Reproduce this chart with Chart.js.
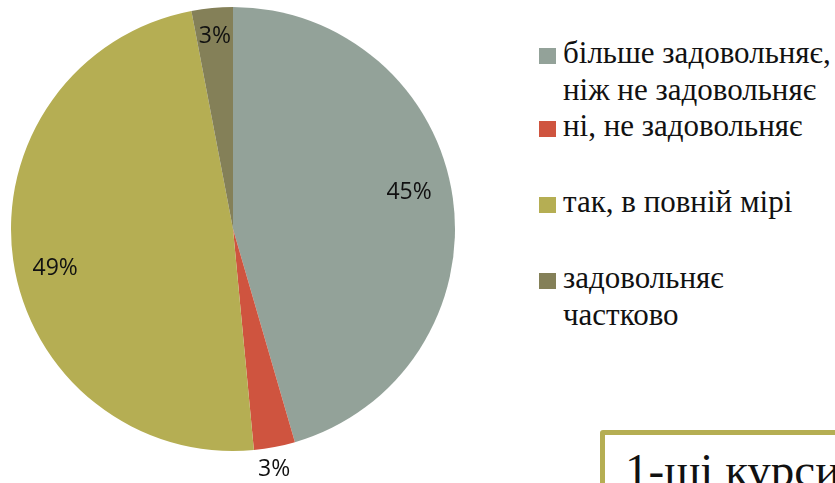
<!DOCTYPE html>
<html>
<head>
<meta charset="utf-8">
<script src="https://cdn.jsdelivr.net/npm/chart.js@4/dist/chart.umd.min.js"></script>
<style>
  html, body { margin: 0; padding: 0; background: #ffffff; }
  body { width: 835px; height: 483px; position: relative; overflow: hidden; }
  #wrap { position: absolute; left: 0; top: 0; width: 466px; height: 483px; }
  #legend { position: absolute; left: 539px; top: 0; font-family: "Liberation Serif", "DejaVu Serif", serif; color: #111; }
  .item { position: absolute; left: 0; white-space: nowrap; }
  .sw { position: absolute; left: 0; width: 17px; height: 16px; }
  .txt { position: absolute; left: 24px; font-size: 31px; line-height: 37px; }
  #box { position: absolute; left: 600px; top: 430px; width: 260px; height: 100px; border: 5px solid #B5AE53; border-radius: 3px; box-sizing: border-box; }
  #boxtxt { position: absolute; left: 625px; top: 444px; font-family: "Liberation Serif", "DejaVu Serif", serif; font-size: 47px; line-height: 52px; color: #111; white-space: nowrap; }
</style>
</head>
<body>
<div id="wrap"><canvas id="c"></canvas></div>
<div id="legend"></div>
<div id="box"></div>
<div id="boxtxt">1-ші курси</div>
<script>
const categories = [
  "більше задовольняє, ніж не задовольняє",
  "ні, не задовольняє",
  "так, в повній мірі",
  "задовольняє частково"
];
const legendLines = [
  ["більше задовольняє,", "ніж не задовольняє"],
  ["ні, не задовольняє"],
  ["так, в повній мірі"],
  ["задовольняє", "частково"]
];
const values = [45.5, 3.0, 48.5, 3.0];
const percentLabels = ["45%", "3%", "49%", "3%"];
const colors = ["#93A299", "#CF543F", "#B5AE53", "#848058"];

// label placement (style): radius fraction and angle offset in degrees
const labelRadius = [0.81, 1.10, 0.82, 0.87];
const labelAngleOffset = [-3.6, 1.1, -4.3, 0];

const labelPlugin = {
  id: 'pctLabels',
  afterDatasetsDraw(chart) {
    const ctx = chart.ctx;
    const meta = chart.getDatasetMeta(0);
    ctx.save();
    ctx.font = '23px "Open Sans", "DejaVu Sans", sans-serif';
    ctx.fillStyle = '#111';
    ctx.textAlign = 'center';
    ctx.textBaseline = 'middle';
    meta.data.forEach((arc, i) => {
      const p = arc.getProps(['x', 'y', 'startAngle', 'endAngle', 'outerRadius'], true);
      const mid = (p.startAngle + p.endAngle) / 2 + labelAngleOffset[i] * Math.PI / 180;
      const r = p.outerRadius * labelRadius[i];
      ctx.fillText(percentLabels[i], p.x + Math.cos(mid) * r, p.y + Math.sin(mid) * r);
    });
    ctx.restore();
  }
};

new Chart(document.getElementById('c'), {
  type: 'pie',
  data: {
    labels: categories,
    datasets: [{
      data: values,
      backgroundColor: colors,
      borderWidth: 0
    }]
  },
  options: {
    responsive: true,
    maintainAspectRatio: false,
    animation: false,
    layout: { padding: { left: 11, top: 7, right: 11, bottom: 32 } },
    plugins: { legend: { display: false }, tooltip: { enabled: false } }
  },
  plugins: [labelPlugin]
});

// legend built from data arrays
const legendTops = [48, 121, 197, 273];
const legend = document.getElementById('legend');
legendLines.forEach((lines, i) => {
  const item = document.createElement('div');
  item.className = 'item';
  item.style.top = legendTops[i] + 'px';
  const sw = document.createElement('div');
  sw.className = 'sw';
  sw.style.background = colors[i];
  item.appendChild(sw);
  const t = document.createElement('div');
  t.className = 'txt';
  t.style.top = '-14px';
  t.innerHTML = lines.join('<br>');
  item.appendChild(t);
  legend.appendChild(item);
});
</script>
</body>
</html>
